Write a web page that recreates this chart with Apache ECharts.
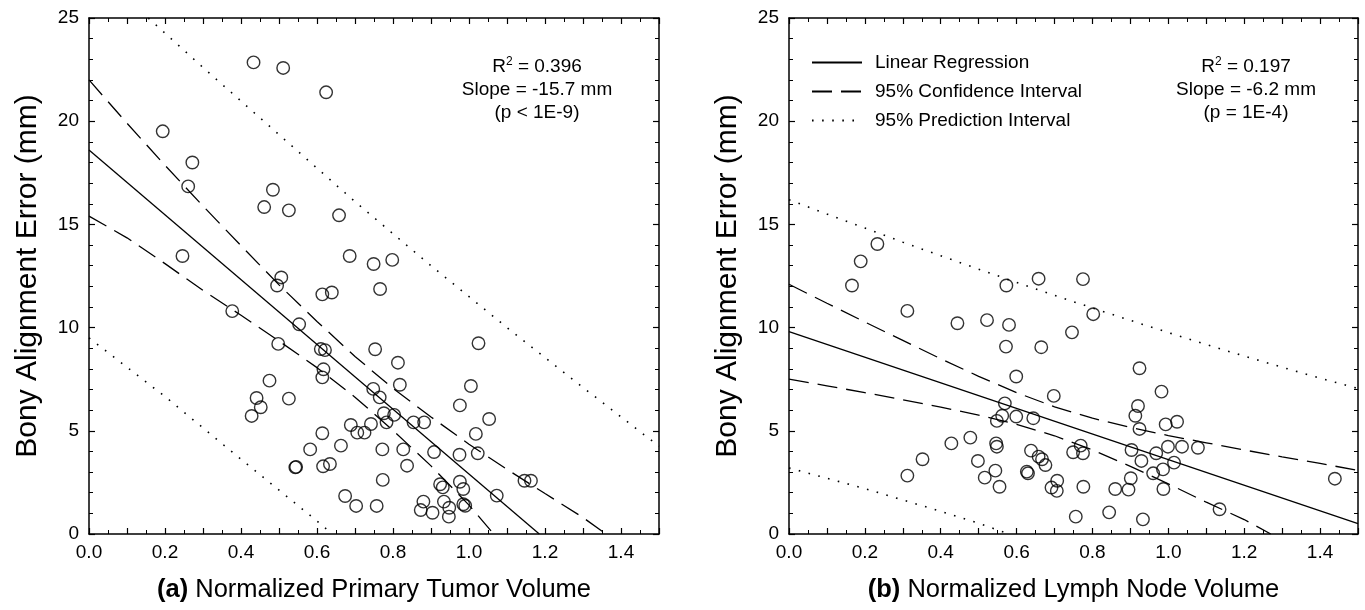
<!DOCTYPE html>
<html>
<head>
<meta charset="utf-8">
<script src="https://cdn.jsdelivr.net/npm/echarts@6/dist/echarts.min.js"></script>
<style>
  html, body { margin: 0; padding: 0; background: #fff; }
  #chart { width: 1365px; height: 610px; }
</style>
</head>
<body>
<div id="chart"></div>
<script>
// (a) primary tumor volume vs bony alignment error
const tumorPoints = [
  [0.433, 22.85], [0.511, 22.58], [0.624, 21.40], [0.194, 19.51], [0.272, 18.0],
  [0.261, 16.84], [0.484, 16.68], [0.461, 15.84], [0.526, 15.68], [0.658, 15.44],
  [0.246, 13.47], [0.686, 13.47], [0.749, 13.08], [0.798, 13.28], [0.506, 12.43],
  [0.495, 12.04], [0.614, 11.61], [0.639, 11.70], [0.766, 11.87], [0.377, 10.80],
  [0.553, 10.16], [0.498, 9.21], [0.610, 8.96], [0.621, 8.91], [0.753, 8.95],
  [1.025, 9.24], [0.617, 7.98], [0.614, 7.59], [0.475, 7.43], [0.813, 8.30],
  [0.818, 7.23], [1.005, 7.17], [0.748, 7.03], [0.765, 6.62], [0.526, 6.56],
  [0.441, 6.59], [0.452, 6.14], [0.428, 5.72], [0.976, 6.23], [0.776, 5.85],
  [0.803, 5.77], [0.783, 5.41], [0.854, 5.41], [0.882, 5.41], [1.053, 5.57],
  [0.614, 4.88], [0.689, 5.28], [0.706, 4.91], [0.725, 4.91], [0.742, 5.33],
  [1.018, 4.85], [0.582, 4.10], [0.663, 4.28], [0.772, 4.10], [0.827, 4.10],
  [0.908, 3.97], [0.975, 3.84], [1.023, 3.91], [0.543, 3.23], [0.545, 3.25],
  [0.616, 3.28], [0.634, 3.39], [0.837, 3.31], [0.773, 2.62], [0.976, 2.53],
  [0.985, 2.18], [0.924, 2.41], [0.931, 2.26], [1.146, 2.58], [1.163, 2.58],
  [1.073, 1.86], [0.674, 1.84], [0.703, 1.36], [0.757, 1.36], [0.880, 1.57],
  [0.873, 1.16], [0.904, 1.03], [0.934, 1.57], [0.948, 1.27], [0.947, 0.84],
  [0.985, 1.44], [0.990, 1.37]
]
const tumorFit = [[0, 18.6], [1.185, 0]]
const tumorCiUpper = [[0, 22.0], [0.1, 19.9], [0.2, 17.86], [0.3, 15.89], [0.4, 13.97], [0.5, 12.07], [0.6, 10.3], [0.7, 8.6], [0.8, 7.06], [0.9, 5.67], [1.0, 4.35], [1.1, 3.13], [1.2, 1.96], [1.3, 0.8], [1.36, 0]]
const tumorCiLower = [[0, 15.4], [0.1, 14.35], [0.2, 13.1], [0.3, 11.8], [0.4, 10.6], [0.5, 9.35], [0.6, 8.06], [0.7, 6.63], [0.8, 5.02], [0.9, 3.3], [1.0, 1.4], [1.065, 0]]
const tumorPiUpper = [[0.156, 25], [0.3, 22.6], [0.5, 19.35], [0.7, 16.1], [0.9, 13.0], [1.1, 10.0], [1.3, 7.1], [1.5, 4.25]]
const tumorPiLower = [[0, 9.5], [0.2, 6.66], [0.4, 3.62], [0.6, 0.63], [0.64, 0]]

// (b) lymph node volume vs bony alignment error
const nodePoints = [
  [0.166, 12.04], [0.189, 13.21], [0.233, 14.05], [0.573, 12.04], [0.658, 12.37], [0.775, 12.35],
  [0.312, 10.81], [0.444, 10.21], [0.522, 10.36], [0.580, 10.13], [0.802, 10.65], [0.746, 9.77],
  [0.572, 9.08], [0.665, 9.05], [0.924, 8.03], [0.599, 7.63], [0.982, 6.90], [0.698, 6.69],
  [0.569, 6.33], [0.920, 6.20], [0.913, 5.73], [0.562, 5.73], [0.548, 5.48], [0.599, 5.69], [0.644, 5.61],
  [0.924, 5.09], [0.993, 5.31], [1.023, 5.44],
  [0.428, 4.39], [0.478, 4.67], [0.546, 4.39], [0.548, 4.23], [0.352, 3.62], [0.498, 3.54],
  [0.312, 2.83], [0.516, 2.73], [0.544, 3.07], [0.555, 2.29], [0.638, 4.04], [0.658, 3.75], [0.667, 3.62], [0.676, 3.34],
  [0.627, 3.02], [0.630, 2.94], [0.692, 2.25], [0.706, 2.09], [0.707, 2.58],
  [0.769, 4.28], [0.749, 3.96], [0.775, 3.91], [0.903, 4.07], [0.968, 3.91], [0.999, 4.23], [1.036, 4.23], [1.078, 4.18],
  [0.929, 3.54], [1.015, 3.46], [0.960, 2.94], [0.986, 3.13], [0.901, 2.70], [0.895, 2.15], [0.860, 2.18],
  [0.776, 2.29], [0.987, 2.18], [1.439, 2.68], [1.135, 1.20], [0.844, 1.05], [0.756, 0.84], [0.933, 0.71]
]
const nodeFit = [[0, 9.8], [1.5, 0.5]]
const nodeCiUpper = [[0, 12.1], [0.1, 11.18], [0.2, 10.27], [0.3, 9.38], [0.4, 8.49], [0.5, 7.64], [0.6, 6.85], [0.7, 6.16], [0.8, 5.61], [0.9, 5.16], [1.0, 4.77], [1.1, 4.42], [1.2, 4.07], [1.3, 3.74], [1.4, 3.42], [1.5, 3.08]]
const nodeCiLower = [[0, 7.5], [0.1, 7.18], [0.2, 6.85], [0.3, 6.5], [0.4, 6.15], [0.5, 5.76], [0.6, 5.31], [0.7, 4.76], [0.8, 4.07], [0.9, 3.28], [1.0, 2.43], [1.1, 1.54], [1.2, 0.7], [1.27, 0]]
const nodePiUpper = [[0, 16.2], [0.1, 15.5], [0.2, 14.82], [0.3, 14.14], [0.4, 13.48], [0.5, 12.83], [0.6, 12.19], [0.7, 11.56], [0.8, 10.95], [0.9, 10.35], [1.0, 9.76], [1.1, 9.18], [1.2, 8.62], [1.3, 8.08], [1.4, 7.55], [1.5, 7.05]]
const nodePiLower = [[0, 3.2], [0.1, 2.7], [0.2, 2.2], [0.3, 1.65], [0.4, 1.1], [0.5, 0.52], [0.58, 0]]

const legendNames = ['Linear Regression', '95% Confidence Interval', '95% Prediction Interval']

const FONT = 'Liberation Sans, Arial, Helvetica, sans-serif'
const BLACK = '#000'

function xAxisFor(grid, position, name) {
  return {
    type: 'value', gridIndex: grid, position: position,
    min: 0, max: 1.5, interval: 0.1,
    axisLine: { show: true, onZero: false, lineStyle: { color: BLACK, width: 1.5 } },
    axisTick: { show: true, inside: true, length: 6, lineStyle: { color: BLACK, width: 1.2 } },
    minorTick: { show: true, splitNumber: 2, length: 4, lineStyle: { color: BLACK, width: 1 } },
    splitLine: { show: false },
    axisLabel: {
      show: !!name, margin: 9, fontSize: 19, color: BLACK, fontFamily: FONT,
      formatter: v => (Math.round(v * 10) % 2 === 0 ? v.toFixed(1) : '')
    },
    name: name || '', nameLocation: 'middle', nameGap: 43,
    nameTextStyle: { fontSize: 25.5, color: BLACK, fontFamily: FONT, rich: { b: { fontSize: 25.5, fontWeight: 'bold', fontFamily: FONT, color: BLACK } } }
  }
}

function yAxisFor(grid, position, name) {
  return {
    type: 'value', gridIndex: grid, position: position,
    min: 0, max: 25, interval: 5,
    axisLine: { show: true, onZero: false, lineStyle: { color: BLACK, width: 1.5 } },
    axisTick: { show: true, inside: true, length: 6, lineStyle: { color: BLACK, width: 1.2 } },
    minorTick: { show: true, splitNumber: 5, length: 4, lineStyle: { color: BLACK, width: 1 } },
    splitLine: { show: false },
    axisLabel: { show: !!name, margin: 10, fontSize: 19, color: BLACK, fontFamily: FONT },
    name: name || '', nameLocation: 'middle', nameGap: 46,
    nameTextStyle: { fontSize: 30, color: BLACK, fontFamily: FONT }
  }
}

function lineSeries(name, data, axis, type, width) {
  return {
    name: name, type: 'line', data: data,
    xAxisIndex: axis, yAxisIndex: axis,
    symbol: 'none', smooth: false, silent: true,
    itemStyle: { color: BLACK },
    lineStyle: { color: BLACK, width: width, type: type },
    z: 3
  }
}

function panelSeries(points, fit, ciUp, ciLow, piUp, piLow, axis) {
  return [
    {
      name: 'data', type: 'scatter', data: points,
      xAxisIndex: axis, yAxisIndex: axis,
      symbol: 'circle', symbolSize: 12.5,
      itemStyle: { color: 'rgba(0,0,0,0)', borderColor: BLACK, borderWidth: 1.4 },
      z: 2
    },
    lineSeries(legendNames[0], fit, axis, 'solid', 1.3),
    lineSeries(legendNames[1], ciUp, axis, [20, 9], 1.3),
    lineSeries(legendNames[1], ciLow, axis, [20, 9], 1.3),
    lineSeries(legendNames[2], piUp, axis, [1.6, 8.5], 1.6),
    lineSeries(legendNames[2], piLow, axis, [1.6, 8.5], 1.6)
  ]
}

function statsText(x, r2, slope, p) {
  const base = { fontSize: 19, fontFamily: FONT, fill: BLACK, align: 'center', verticalAlign: 'middle' }
  return [
    {
      type: 'text', x: x, y: 67, silent: true,
      style: Object.assign({}, base, {
        text: '{r|R}{s|2}{r| = ' + r2 + '}',
        rich: {
          r: { fontSize: 19, fontFamily: FONT, lineHeight: 22, fill: BLACK },
          s: { fontSize: 12, fontFamily: FONT, lineHeight: 12, verticalAlign: 'top', fill: BLACK }
        }
      })
    },
    { type: 'text', x: x, y: 90, silent: true, style: Object.assign({}, base, { text: 'Slope = ' + slope }) },
    { type: 'text', x: x, y: 113, silent: true, style: Object.assign({}, base, { text: p }) }
  ]
}

const chart = echarts.init(document.getElementById('chart'), null, { renderer: 'canvas' })

chart.setOption({
  backgroundColor: '#fff',
  animation: false,
  textStyle: { fontFamily: FONT },
  grid: [
    { left: 89, top: 18, width: 570, height: 516 },
    { left: 789, top: 18, width: 569, height: 516 }
  ],
  xAxis: [
    xAxisFor(0, 'bottom', '{b|(a)} Normalized Primary Tumor Volume'),
    xAxisFor(0, 'top'),
    xAxisFor(1, 'bottom', '{b|(b)} Normalized Lymph Node Volume'),
    xAxisFor(1, 'top')
  ],
  yAxis: [
    yAxisFor(0, 'left', 'Bony Alignment Error (mm)'),
    yAxisFor(0, 'right'),
    yAxisFor(1, 'left', 'Bony Alignment Error (mm)'),
    yAxisFor(1, 'right')
  ],
  legend: {
    data: legendNames,
    orient: 'vertical',
    left: 811, top: 53,
    padding: 0,
    itemWidth: 50, itemHeight: 20, itemGap: 10,
    selectedMode: false,
    itemStyle: { opacity: 0, borderWidth: 0 },
    lineStyle: { color: BLACK },
    textStyle: { fontSize: 19, color: BLACK, fontFamily: FONT, padding: [0, 0, 0, 8] }
  },
  graphic: statsText(537, '0.396', '-15.7 mm', '(p < 1E-9)')
    .concat(statsText(1246, '0.197', '-6.2 mm', '(p = 1E-4)')),
  series: panelSeries(tumorPoints, tumorFit, tumorCiUpper, tumorCiLower, tumorPiUpper, tumorPiLower, 0)
    .concat(panelSeries(nodePoints, nodeFit, nodeCiUpper, nodeCiLower, nodePiUpper, nodePiLower, 2))
})
</script>
</body>
</html>
